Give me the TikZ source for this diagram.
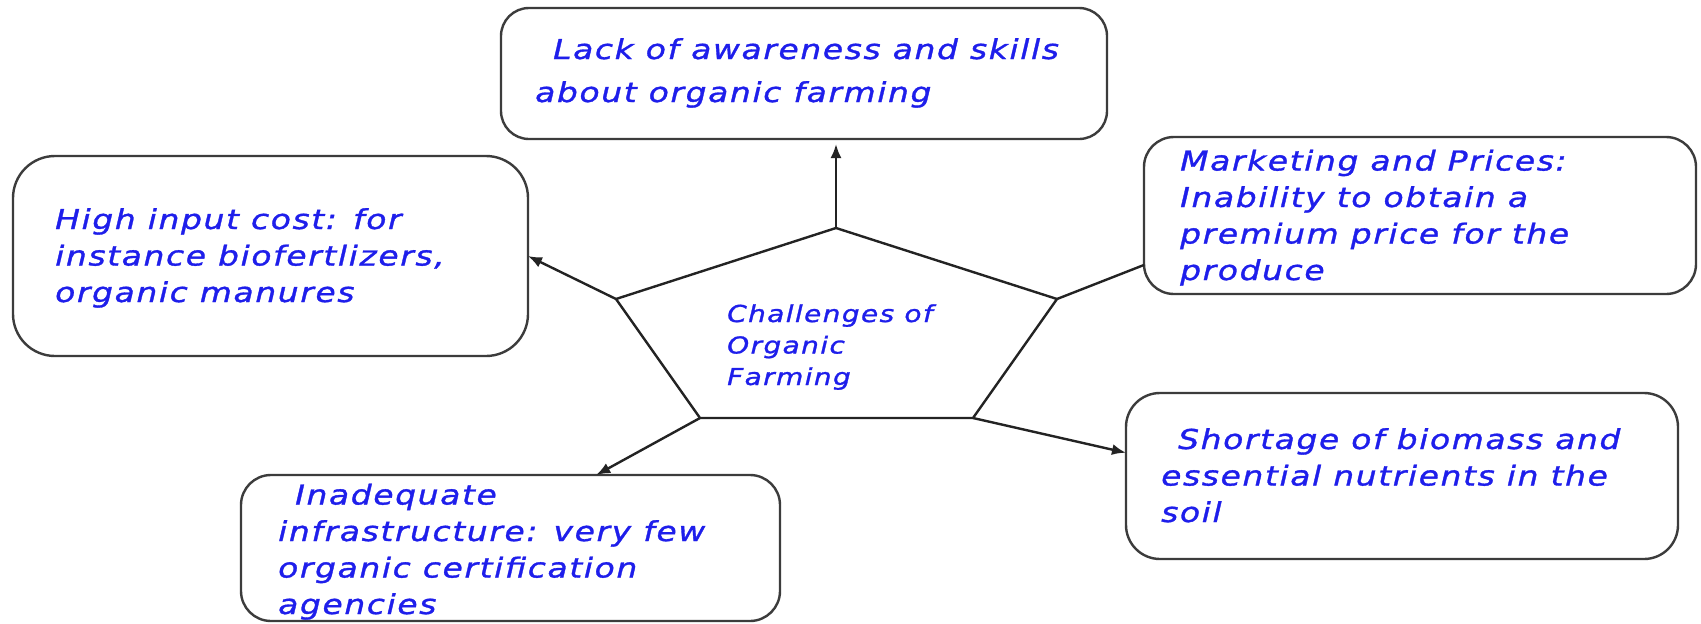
\documentclass[tikz,border=0pt]{standalone}
\usepackage{fontspec}
\usetikzlibrary{arrows.meta,calc}
% rounded hand-style lettering: a widened, slightly spaced oblique sans
\newfontfamily\handfont{DejaVu Sans}[FakeStretch=1.2,LetterSpace=6,FakeBold=1.2]
\definecolor{inkblue}{RGB}{30,30,235}
\definecolor{edge}{RGB}{60,60,60}
\definecolor{wire}{RGB}{35,35,35}
\begin{document}
\begin{tikzpicture}[x=1pt,y=-1pt,
  box/.style={draw=edge,line width=2.4pt,fill=white,outer sep=0pt,inner sep=0pt},
  label/.style={anchor=base west,align=left,inner sep=0pt,text=inkblue,
    font=\handfont\itshape\fontsize{27.4}{36.5}\selectfont},
  wirestyle/.style={draw=wire,line width=2.4pt},
  arr/.style={wirestyle,-{Latex[length=14pt,width=11pt]}}]
  \fill[white] (0,0) rectangle (1701,624);
  \useasboundingbox (0,0) rectangle (1701,624);

  % the five challenge boxes
  \node[box,rounded corners=28pt,minimum width=606pt,minimum height=131pt] (aware) at (804,73.5) {};
  \node[box,rounded corners=42pt,minimum width=515pt,minimum height=200pt] (cost) at (270.5,256) {};
  \node[box,rounded corners=30pt,minimum width=552pt,minimum height=157pt] (market) at (1420,215.5) {};
  \node[box,rounded corners=34pt,minimum width=552pt,minimum height=166pt] (soil) at (1402,476) {};
  \node[box,rounded corners=30pt,minimum width=539pt,minimum height=146pt] (infra) at (510.5,548) {};

  % texts of the boxes (anchored at the baseline of their last line)
  \node[label,font=\handfont\itshape\fontsize{27.4}{43}\selectfont] (awaretxt) at (535,102)
    {\hspace*{18pt}Lack of awareness and skills\\about organic farming};
  \node[label] (costtxt) at (55,302)
    {High input cost: for\\instance biofertlizers,\\organic manures};
  \node[label] (markettxt) at (1180,280)
    {Marketing and Prices:\\Inability to obtain a\\premium price for the\\produce};
  \node[label] (soiltxt) at (1161,522)
    {\hspace*{17pt}Shortage of biomass and\\essential nutrients in the\\soil};
  \node[label] (infratxt) at (278,614)
    {\hspace*{17pt}Inadequate\\infrastructure: very few\\organic certification\\agencies};

  % central pentagon
  \coordinate (pT) at (836,228);
  \coordinate (pUR) at (1057,299);
  \coordinate (pLR) at (973,418);
  \coordinate (pLL) at (700,418);
  \coordinate (pUL) at (616,299);
  \draw[wirestyle,line join=miter] (pT) -- (pUR) -- (pLR) -- (pLL) -- (pUL) -- cycle;
  \node[label,font=\handfont\itshape\fontsize{23.3}{31.5}\selectfont] (centre) at (727,385)
    {Challenges of\\Organic\\Farming};

  % connectors from the pentagon corners
  \draw[arr,shorten >=5pt] (pT) -- (pT |- aware.south);
  \draw[arr] (pUL) -- (cost.east);
  \draw[wirestyle] (pUR) -- ($(market.south west)!0.185!(market.north west)$);
  \draw[arr] (pLR) -- ($(soil.north west)!0.36!(soil.south west)$);
  \draw[arr] (pLL) -- ($(infra.north west)!0.659!(infra.north east)$);
\end{tikzpicture}
\end{document}
